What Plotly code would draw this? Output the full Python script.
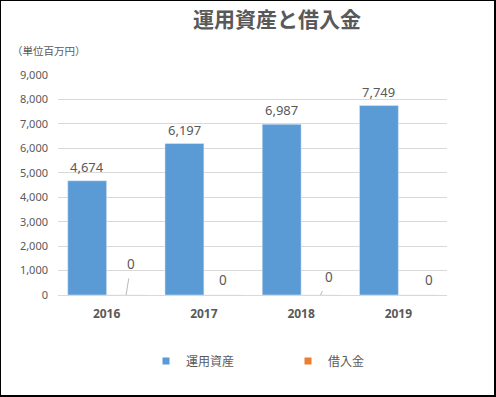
import plotly.graph_objects as go

years = ["2016", "2017", "2018", "2019"]
assets = [4674, 6197, 6987, 7749]
loans = [0, 0, 0, 0]
series_names = ["運用資産", "借入金"]
title_text = "運用資産と借入金"
unit_text = "（単位百万円）"
y_ticks = [0, 1000, 2000, 3000, 4000, 5000, 6000, 7000, 8000, 9000]

BLUE = "#5B9BD5"
ORANGE = "#ED7D31"
GRAY = "#595959"
FONT = "Noto Sans, Noto Sans CJK JP, sans-serif"

W, H = 496, 397
L, R, T, B = 58, 49, 75, 102
PW, PH = W - L - R, H - T - B


def px(x):
    return (x - L) / PW


def py(y):
    return 1 - (y - T) / PH


fig = go.Figure()
fig.add_trace(go.Bar(x=years, y=assets, name=series_names[0], marker_color=BLUE,
                     showlegend=False, hoverinfo="x+y"))
fig.add_trace(go.Bar(x=years, y=loans, name=series_names[1], marker_color=ORANGE,
                     showlegend=False, hoverinfo="x+y"))
# legend entries
fig.add_trace(go.Scatter(x=[None], y=[None], mode="markers", name=series_names[0],
                         marker=dict(symbol="square", size=7, color=BLUE)))
fig.add_trace(go.Scatter(x=[None], y=[None], mode="markers", name=series_names[1],
                         marker=dict(symbol="square", size=7, color=ORANGE)))

annotations = []
# value labels for assets
for i, v in enumerate(assets):
    annotations.append(dict(x=i - 0.2, y=v, xref="x", yref="y", text=f"{v:,}",
                            showarrow=False, yanchor="middle", yshift=14,
                            font=dict(size=13, color=GRAY, family=FONT)))
# value labels for loans (manually moved in original, some with leader lines)
loan_label_offsets = [(5, -31, True), (0, -15, False), (8, -18, True), (11, -15, False)]
for i, v in enumerate(loans):
    dx, dy, leader = loan_label_offsets[i]
    if leader:
        annotations.append(dict(x=i + 0.2, y=v, xref="x", yref="y", text=f"{v:,}",
                                showarrow=True, arrowhead=0, arrowwidth=0.8,
                                arrowcolor="#A6A6A6", ax=dx, ay=dy, startstandoff=4,
                                font=dict(size=13.5, color=GRAY, family=FONT)))
    else:
        annotations.append(dict(x=i + 0.2, y=v, xref="x", yref="y", text=f"{v:,}",
                                showarrow=False, xshift=dx, yshift=-dy,
                                yanchor="middle",
                                font=dict(size=13.5, color=GRAY, family=FONT)))
annotations.append(dict(x=px(277), y=py(19), xref="paper", yref="paper",
                        text=f"<b>{title_text}</b>", showarrow=False,
                        xanchor="center", yanchor="middle",
                        font=dict(size=21, color=GRAY, family=FONT)))
annotations.append(dict(x=px(10), y=py(51.5), xref="paper", yref="paper",
                        text=unit_text, showarrow=False,
                        xanchor="left", yanchor="middle",
                        font=dict(size=10.5, color=GRAY, family=FONT)))

shapes = [
    dict(type="line", xref="paper", yref="paper", x0=px(0.5), x1=px(0.5), y0=py(0), y1=py(397),
         line=dict(color="black", width=1)),
    dict(type="line", xref="paper", yref="paper", x0=px(0), x1=px(496), y0=py(0.5), y1=py(0.5),
         line=dict(color="black", width=1)),
    dict(type="line", xref="paper", yref="paper", x0=px(495), x1=px(495), y0=py(0), y1=py(397),
         line=dict(color="black", width=2)),
    dict(type="line", xref="paper", yref="paper", x0=px(0), x1=px(496), y0=py(396), y1=py(396),
         line=dict(color="black", width=2)),
]

fig.update_layout(
    width=W, height=H,
    margin=dict(l=L, r=R, t=T, b=B, pad=0, autoexpand=False),
    paper_bgcolor="white", plot_bgcolor="white",
    barmode="group", bargap=0.2, bargroupgap=0,
    font=dict(family=FONT, color=GRAY),
    annotations=annotations,
    shapes=shapes,
    legend=dict(orientation="h", x=px(146), y=py(361), xanchor="left", yanchor="middle",
                font=dict(size=12, color=GRAY, family=FONT), entrywidth=97,
                itemwidth=30, bgcolor="rgba(0,0,0,0)"),
)
fig.update_xaxes(type="category", showgrid=False, showline=True, linecolor="#D9D9D9",
                 linewidth=1, ticks="", tickfont=dict(size=12, color=GRAY, family=FONT),
                 ticklabelstandoff=8, tickprefix="<b>", ticksuffix="</b>")
fig.update_yaxes(range=[0, 9000], tickvals=y_ticks, tickformat=",d", showgrid=True,
                 gridcolor="#D9D9D9", gridwidth=1, zeroline=False, showline=False,
                 ticks="", tickfont=dict(size=11, color=GRAY, family=FONT),
                 ticklabelstandoff=9)

fig.write_html("out.html", config={"displayModeBar": False},
               post_script="document.body.style.margin='0';document.body.style.overflow='hidden';")
